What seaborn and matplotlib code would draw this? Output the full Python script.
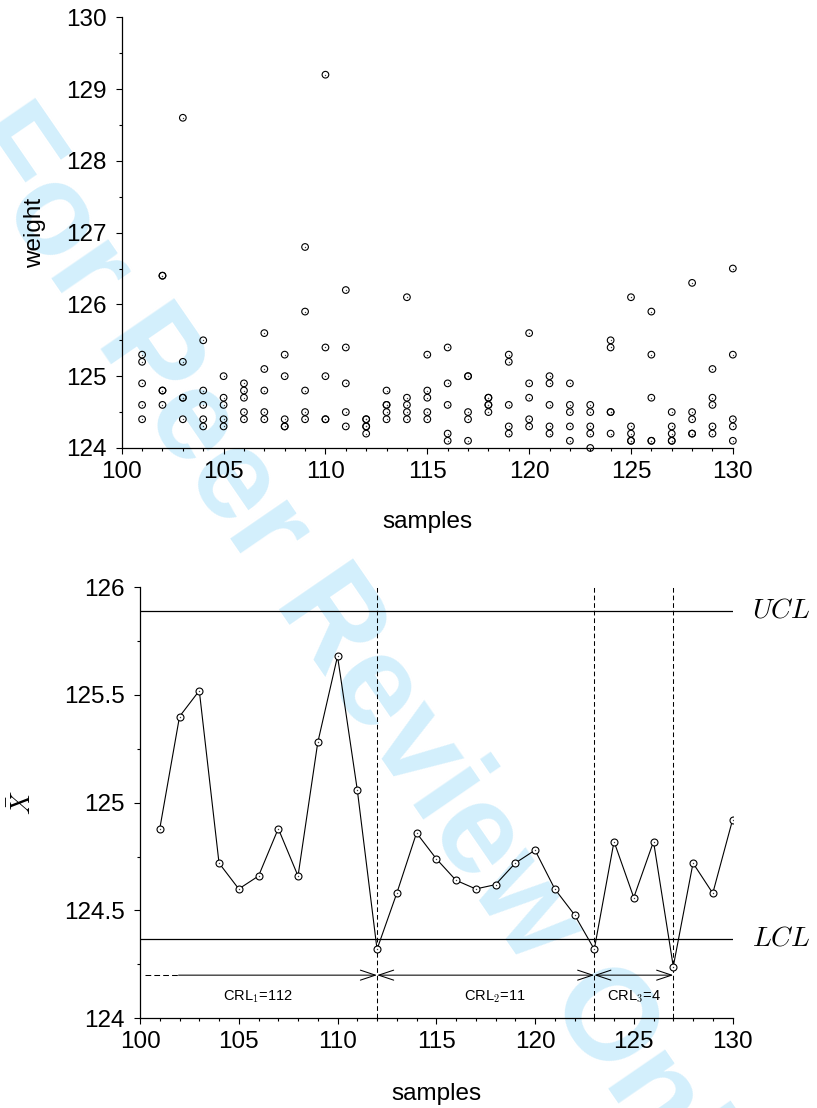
import numpy as np
import pandas as pd
import matplotlib
matplotlib.use("Agg")
import matplotlib.pyplot as plt
import seaborn as sns
from matplotlib.ticker import MultipleLocator

# ---------------- data ----------------
samples = list(range(101, 131))
weight_1 = [125.3, 126.4, 128.6, 125.5, 125.0, 124.9, 125.6, 125.3, 126.8, 129.2,
            126.2, 124.4, 124.8, 126.1, 125.3, 125.4, 125.0, 124.7, 125.3, 125.6,
            125.0, 124.9, 124.6, 125.5, 126.1, 125.9, 124.5, 126.3, 125.1, 126.5]
weight_2 = [125.2, 126.4, 125.2, 124.8, 124.7, 124.8, 125.1, 125.0, 125.9, 125.4,
            125.4, 124.4, 124.6, 124.7, 124.8, 124.9, 125.0, 124.7, 125.2, 124.9,
            124.9, 124.6, 124.5, 125.4, 124.3, 125.3, 124.3, 124.5, 124.7, 125.3]
weight_3 = [124.9, 124.8, 124.7, 124.6, 124.6, 124.7, 124.8, 124.4, 124.8, 125.0,
            124.9, 124.3, 124.6, 124.6, 124.7, 124.6, 124.5, 124.6, 124.6, 124.7,
            124.6, 124.5, 124.3, 124.5, 124.2, 124.7, 124.2, 124.4, 124.6, 124.4]
weight_4 = [124.6, 124.8, 124.7, 124.4, 124.4, 124.5, 124.5, 124.3, 124.5, 124.4,
            124.5, 124.3, 124.5, 124.5, 124.5, 124.2, 124.4, 124.6, 124.3, 124.4,
            124.3, 124.3, 124.2, 124.5, 124.1, 124.1, 124.1, 124.2, 124.3, 124.3]
weight_5 = [124.4, 124.6, 124.4, 124.3, 124.3, 124.4, 124.4, 124.3, 124.4, 124.4,
            124.3, 124.2, 124.4, 124.4, 124.4, 124.1, 124.1, 124.5, 124.2, 124.3,
            124.2, 124.1, 124.0, 124.2, 124.1, 124.1, 124.1, 124.2, 124.2, 124.1]

xbar = [124.88, 125.40, 125.52, 124.72, 124.60, 124.66, 124.88, 124.66, 125.28, 125.68,
        125.06, 124.32, 124.58, 124.86, 124.74, 124.64, 124.60, 124.62, 124.72, 124.78,
        124.60, 124.48, 124.32, 124.82, 124.56, 124.82, 124.24, 124.72, 124.58, 124.92]

ucl = 125.89
lcl = 124.37
signal_samples = [112, 123, 127]
crl_level = 124.2
crl_label_y = 124.1
crl_label_x = [106.0, 117.95, 125.0]
crl_labels = [r"CRL$_{\mathsf{1}}$=112", r"CRL$_{\mathsf{2}}$=11", r"CRL$_{\mathsf{3}}$=4"]
crl1_dash_start = 100.25
crl1_solid_start = 101.95

top_xticks = [100, 105, 110, 115, 120, 125, 130]
top_yticks = [124, 125, 126, 127, 128, 129, 130]
bot_yticks = [124, 124.5, 125, 125.5, 126]
bot_ytick_labels = ["124", "124.5", "125", "125.5", "126"]

# ---------------- style ----------------
sns.set_theme(style="ticks")
plt.rcParams["font.family"] = ["Liberation Sans", "DejaVu Sans"]
plt.rcParams["mathtext.fontset"] = "cm"
plt.rcParams["text.color"] = "black"
plt.rcParams["axes.labelcolor"] = "black"

FS = 17.5
fig = plt.figure(figsize=(8.17, 11.08), dpi=100)
fig.patch.set_facecolor("white")

# watermark
fig.text(0.440, 0.3965, "For Peer Review Only", rotation=-55.5, rotation_mode="anchor",
         ha="center", va="center", fontsize=93, fontweight="bold",
         color="#d3effc", zorder=-5)

ax1 = fig.add_axes([0.149, 0.5957, 0.748, 0.3887])
ax2 = fig.add_axes([0.1714, 0.0810, 0.7252, 0.3890])


def style_axis(ax):
    ax.patch.set_alpha(0)
    for s in ["left", "bottom"]:
        ax.spines[s].set_linewidth(0.9)
        ax.spines[s].set_color("black")
    sns.despine(ax=ax)
    ax.tick_params(which="major", direction="out", length=4.3, width=0.8,
                   colors="black", labelsize=FS)
    ax.tick_params(which="minor", direction="out", length=2.2, width=0.8, colors="black")
    ax.tick_params(axis="y", which="major", pad=6.5)
    ax.tick_params(axis="x", which="major", pad=5)
    ax.grid(False)


# ---------------- top: individual weights ----------------
df = pd.DataFrame({
    "sample": samples * 5,
    "weight": weight_1 + weight_2 + weight_3 + weight_4 + weight_5,
})
sns.scatterplot(data=df, x="sample", y="weight", ax=ax1, s=23, marker="o",
                facecolors="none", edgecolors="black", linewidth=0.8,
                clip_on=False, zorder=3, legend=False)
sns.scatterplot(data=df, x="sample", y="weight", ax=ax1, s=1.0, marker="o",
                color="0.25", linewidth=0, clip_on=False, zorder=4, legend=False)
ax1.set_xlim(100, 130)
ax1.set_ylim(124, 130)
ax1.set_xticks(top_xticks)
ax1.set_yticks(top_yticks)
ax1.xaxis.set_minor_locator(MultipleLocator(1))
ax1.yaxis.set_minor_locator(MultipleLocator(0.5))
style_axis(ax1)
ax1.set_xlabel("samples", fontsize=FS, color="black")
ax1.set_ylabel("weight", fontsize=FS, color="black")
ax1.xaxis.set_label_coords(0.5, -0.147)
ax1.yaxis.set_label_coords(-0.124, 0.5)

# ---------------- bottom: Xbar chart ----------------
ax2.axhline(ucl, color="black", lw=0.9, zorder=2)
ax2.axhline(lcl, color="black", lw=0.9, zorder=2)
for xs in signal_samples:
    ax2.axvline(xs, color="black", lw=0.75, ls="--", dashes=(4.5, 2.8), zorder=1)

sns.lineplot(x=samples, y=xbar, ax=ax2, color="black", lw=0.8, marker="o",
             markersize=5.0, markerfacecolor="white", markeredgecolor="black",
             markeredgewidth=0.8, zorder=3)
sns.scatterplot(x=samples, y=xbar, ax=ax2, s=1.0, color="0.25", linewidth=0,
                zorder=4, legend=False)

ax2.plot([crl1_dash_start, crl1_solid_start], [crl_level, crl_level], color="black",
         lw=0.75, ls="--", dashes=(5.5, 3))
head = "head_length=0.9,head_width=0.3"
ax2.annotate("", xy=(signal_samples[0], crl_level), xytext=(crl1_solid_start, crl_level),
             arrowprops=dict(arrowstyle="->," + head, lw=0.75, color="black",
                             shrinkA=0, shrinkB=0))
ax2.annotate("", xy=(signal_samples[1], crl_level), xytext=(signal_samples[0], crl_level),
             arrowprops=dict(arrowstyle="<->," + head, lw=0.75, color="black",
                             shrinkA=0, shrinkB=0))
ax2.annotate("", xy=(signal_samples[2], crl_level), xytext=(signal_samples[1], crl_level),
             arrowprops=dict(arrowstyle="<->," + head, lw=0.75, color="black",
                             shrinkA=0, shrinkB=0))
for xl, lab in zip(crl_label_x, crl_labels):
    ax2.text(xl, crl_label_y, lab, ha="center", va="center", fontsize=10.5)

ax2.text(131.0, ucl, r"$UCL$", ha="left", va="center", fontsize=20)
ax2.text(131.0, lcl, r"$LCL$", ha="left", va="center", fontsize=20)

ax2.set_xlim(100, 130)
ax2.set_ylim(124, 126)
ax2.set_xticks(top_xticks)
ax2.set_yticks(bot_yticks)
ax2.set_yticklabels(bot_ytick_labels)
ax2.xaxis.set_minor_locator(MultipleLocator(1))
ax2.yaxis.set_minor_locator(MultipleLocator(0.25))
style_axis(ax2)
ax2.set_xlabel("samples", fontsize=FS, color="black")
ax2.set_ylabel(r"$\bar{X}$", fontsize=19, color="black")
ax2.xaxis.set_label_coords(0.5, -0.150)
ax2.yaxis.set_label_coords(-0.176, 0.5)

fig.savefig("out.png", dpi=100, facecolor="white")
